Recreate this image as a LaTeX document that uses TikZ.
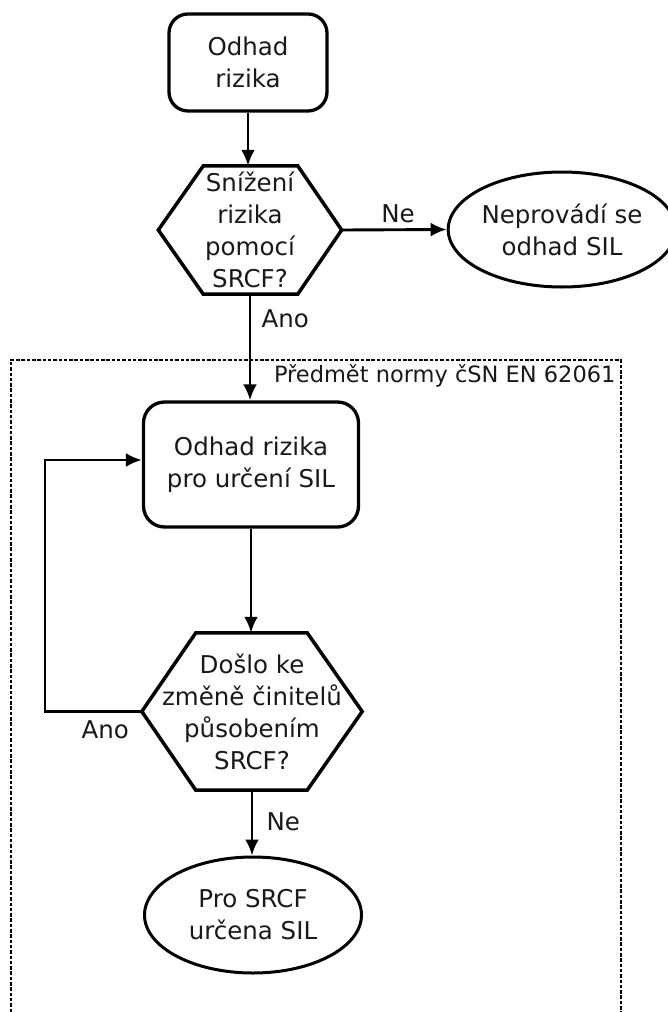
\documentclass[tikz,border=0pt]{standalone}
\usepackage{fontspec}
\setmainfont{DejaVu Sans}
\usetikzlibrary{arrows.meta,shapes.geometric,calc}

\begin{document}
\begin{tikzpicture}[x=1pt,y=-1pt,
  every node/.style={font=\fontsize{24.5}{32}\selectfont, text=black!90, align=center},
  box/.style={draw, line width=3.3pt, rounded corners=19pt, inner sep=0pt},
  term/.style={draw, ellipse, line width=3pt, inner sep=0pt},
  hexa/.style={inner sep=0pt},
  hexline/.style={line width=3.5pt, line join=miter},
  flow/.style={line width=2.9pt, -{Latex[length=16pt,width=14pt]}},
  lbl/.style={anchor=base west},
  scopeline/.style={line width=2.2pt, dash pattern=on 3.5pt off 1.8pt},
]
\useasboundingbox (0,0) rectangle (667,1012);

% scope of the standard (open at the bottom)
\draw[scopeline] (11,1012) -- (11,360) -- (621,360) -- (621,1012);
\node[font=\fontsize{22.5}{28}\selectfont, anchor=base east] (scope) at (619,382) {Předmět normy čSN EN 62061};

% nodes
\node[box, minimum width=158pt, minimum height=97pt] (b1) at (248,62.5) {Odhad\\rizika};
\node[hexa, minimum width=183pt, minimum height=128pt] (h1) at (250,230) {Snížení\\rizika\\pomocí\\SRCF?};
\draw[hexline] (h1.west) -- ($(h1.north west)+(45,0)$) -- ($(h1.north east)+(-44,0)$) -- (h1.east)
  -- ($(h1.south east)+(-44,0)$) -- ($(h1.south west)+(45,0)$) -- cycle;
\node[term, minimum width=210pt, minimum height=115pt] (e1) at (562,229.5) {Neprovádí se\\odhad SIL};

\node[box, minimum width=215pt, minimum height=125pt, rounded corners=21pt] (b2) at (251,464.5) {Odhad rizika\\pro určení SIL};
\node[hexa, minimum width=220pt, minimum height=157pt] (h2) at (252,711.5) {Došlo ke\\změně činitelů\\působením\\SRCF?};
\draw[hexline] (h2.west) -- ($(h2.north west)+(54,0)$) -- ($(h2.north east)+(-55,0)$) -- (h2.east)
  -- ($(h2.south east)+(-55,0)$) -- ($(h2.south west)+(54,0)$) -- cycle;
\node[term, minimum width=217pt, minimum height=116pt] (e2) at (253,915) {Pro SRCF\\určena SIL};

% connectors
\coordinate (loop) at (45,0);
\draw[flow] (b1.south) -- (b1.south |- h1.north);
\draw[flow] (h1.east) -- (e1.west);
\draw[flow] (h1.south) -- (h1.south |- b2.north);
\draw[flow] (b2.south) -- (b2.south |- h2.north);
\draw[flow] (h2.south) -- (h2.south |- e2.north);
\draw[flow] (h2.west) -- (h2.west -| loop) |- ($(b2.west)+(0,-4.5)$);

% branch labels
\node[anchor=base] (ne1) at (398,222) {Ne};
\node[lbl] (ano1) at (258,327) {Ano};
\node[lbl] (ano2) at (78,738) {Ano};
\node[lbl] (ne2) at (263,830) {Ne};
\end{tikzpicture}
\end{document}
